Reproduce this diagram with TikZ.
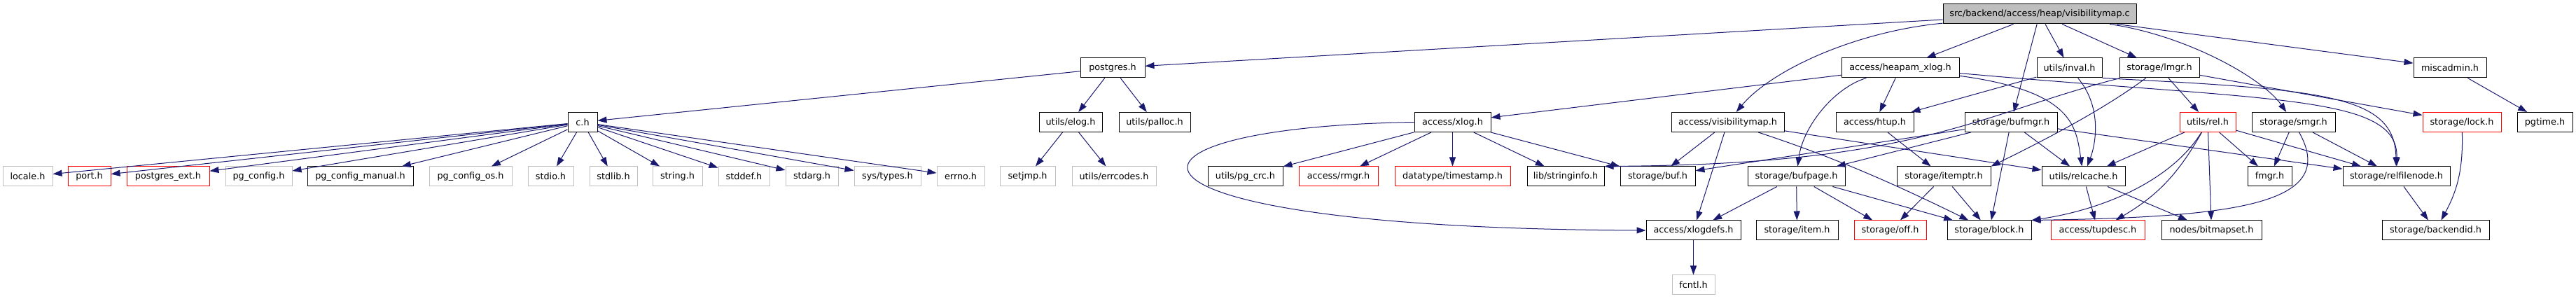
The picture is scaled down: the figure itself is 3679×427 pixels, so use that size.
\documentclass[tikz,border=0pt]{standalone}
\usepackage{fontspec}
\setmainfont{DejaVu Sans}
\usetikzlibrary{arrows.meta}
\definecolor{edgeblue}{HTML}{191970}
\definecolor{boxgray}{HTML}{BFBFBF}
\tikzset{
  hdr/.style={draw=black, fill=white, line width=1pt, inner sep=0pt,
    minimum height=28pt, minimum width=#1},
  sys/.style={hdr=#1, draw=boxgray},
  cut/.style={hdr=#1, draw=red},
  src/.style={hdr=#1, fill=boxgray},
  edge/.style={draw=edgeblue, line width=1pt, -{Triangle[length=13pt,width=9pt]}}
}
\begin{document}
\begin{tikzpicture}[x=1pt,y=-1pt,font=\fontsize{12.8}{15}\selectfont]
\path[use as bounding box, fill=white] (0,0) rectangle (3679,427);
\node[src=276] (top) at (2913,20) {src/backend/access/heap/visibilitymap.c};
% row 1
\node[hdr=92] (postgres) at (1589,97) {postgres.h};
\node[hdr=168] (heapamxlog) at (2714,97) {access/heapam\_xlog.h};
\node[hdr=93] (inval) at (2955.5,97) {utils/inval.h};
\node[hdr=114] (lmgr) at (3084,97) {storage/lmgr.h};
\node[hdr=104] (miscadmin) at (3499,97) {miscadmin.h};
% row 2
\node[hdr=42] (ch) at (832,174.5) {c.h};
\node[hdr=90] (elog) at (1529,174.5) {utils/elog.h};
\node[hdr=102] (palloc) at (1649,174.5) {utils/palloc.h};
\node[hdr=109] (xlog) at (2074.5,174.5) {access/xlog.h};
\node[hdr=161] (vismap) at (2467.5,174.5) {access/visibilitymap.h};
\node[hdr=111] (htup) at (2677.5,174.5) {access/htup.h};
\node[hdr=132] (bufmgr) at (2872,174.5) {storage/bufmgr.h};
\node[cut=80] (rel) at (3153,174.5) {utils/rel.h};
\node[hdr=119] (smgr) at (3275.5,174.5) {storage/smgr.h};
\node[cut=112] (lock) at (3516,174.5) {storage/lock.h};
\node[hdr=79] (pgtime) at (3634.5,174.5) {pgtime.h};
% row 3
\node[sys=71] (locale) at (39.5,252) {locale.h};
\node[cut=61] (port) at (127.5,252) {port.h};
\node[cut=118] (pgext) at (240,252) {postgres\_ext.h};
\node[sys=95] (pgconfig) at (369.5,252) {pg\_config.h};
\node[hdr=151] (pgcfgmanual) at (514.5,252) {pg\_config\_manual.h};
\node[sys=118] (pgcfgos) at (672,252) {pg\_config\_os.h};
\node[sys=65] (stdio) at (786.5,252) {stdio.h};
\node[sys=68] (stdlib) at (876,252) {stdlib.h};
\node[sys=71] (string) at (967.5,252) {string.h};
\node[sys=73] (stddef) at (1062.5,252) {stddef.h};
\node[sys=75] (stdarg) at (1159.5,252) {stdarg.h};
\node[sys=95] (systypes) at (1267.5,252) {sys/types.h};
\node[sys=68] (errno) at (1372,252) {errno.h};
\node[sys=79] (setjmp) at (1467.5,252) {setjmp.h};
\node[sys=120] (errcodes) at (1591,252) {utils/errcodes.h};
\node[hdr=107] (pgcrc) at (1778.5,252) {utils/pg\_crc.h};
\node[cut=113] (rmgr) at (1911.5,252) {access/rmgr.h};
\node[cut=165] (timestamp) at (2074.5,252) {datatype/timestamp.h};
\node[hdr=110] (stringinfo) at (2236,252) {lib/stringinfo.h};
\node[hdr=107] (buf) at (2367.5,252) {storage/buf.h};
\node[hdr=139] (bufpage) at (2565.5,252) {storage/bufpage.h};
\node[hdr=134] (itemptr) at (2776,252) {storage/itemptr.h};
\node[hdr=119] (relcache) at (2975.5,252) {utils/relcache.h};
\node[hdr=63] (fmgr) at (3241.5,252) {fmgr.h};
\node[hdr=153] (relfilenode) at (3422.5,252) {storage/relfilenode.h};
% row 4
\node[hdr=135] (xlogdefs) at (2418.5,329) {access/xlogdefs.h};
\node[hdr=117] (item) at (2566.5,329) {storage/item.h};
\node[cut=103] (off) at (2699.5,329) {storage/off.h};
\node[hdr=120] (block) at (2841,329) {storage/block.h};
\node[cut=134] (tupdesc) at (2996,329) {access/tupdesc.h};
\node[hdr=143] (bitmapset) at (3158.5,329) {nodes/bitmapset.h};
\node[hdr=153] (backendid) at (3478.5,329) {storage/backendid.h};
% row 5
\node[sys=61] (fcntl) at (2418.5,407) {fcntl.h};

% visibilitymap.c
\foreach \t in {postgres,heapamxlog,bufmgr,inval,lmgr,miscadmin}
  \draw[edge] (top) -- (\t);
\draw[edge] (top) .. controls (2650,45) and (2530,100) .. (vismap);
\draw[edge] (top) .. controls (3120,50) and (3230,110) .. (smgr);

% postgres.h, c.h, utils/elog.h
\foreach \t in {ch,elog,palloc}
  \draw[edge] (postgres) -- (\t);
\foreach \t in {locale,port,pgext,pgconfig,pgcfgmanual,pgcfgos,stdio,stdlib,string,stddef,stdarg,systypes,errno}
  \draw[edge] (ch) -- (\t);
\foreach \t in {setjmp,errcodes}
  \draw[edge] (elog) -- (\t);

% access/heapam_xlog.h
\foreach \t in {xlog,htup}
  \draw[edge] (heapamxlog) -- (\t);
\draw[edge] (heapamxlog) .. controls (2620,125) and (2575,180) .. (bufpage);
\draw[edge] (heapamxlog) .. controls (2960,130) and (2965,180) .. (relcache);
\draw[edge] (heapamxlog) .. controls (3250,145) and (3425,135) .. (relfilenode);

% access/xlog.h
\foreach \t in {pgcrc,rmgr,timestamp,stringinfo,buf}
  \draw[edge] (xlog) -- (\t);
\draw[edge] (xlog.west) .. controls (1545,182) and (1545,326) .. (xlogdefs.west);

% access/visibilitymap.h
\foreach \t in {buf,xlogdefs,relcache}
  \draw[edge] (vismap) -- (\t);
\draw[edge] (vismap) .. controls (2620,225) and (2700,260) .. (block);

% access/htup.h, utils/inval.h
\draw[edge] (htup) -- (itemptr);
\draw[edge] (inval) -- (htup);
\draw[edge] (inval) .. controls (3000,150) and (2995,200) .. (relcache);
\draw[edge] (inval.south east) .. controls (3320,128) and (3420,135) .. (relfilenode);

% storage/lmgr.h
\foreach \t in {rel,lock}
  \draw[edge] (lmgr) -- (\t);
\draw[edge] (lmgr) .. controls (3000,160) and (2900,210) .. (itemptr.north east);
\draw[edge] (lmgr) .. controls (2820,165) and (2740,235) .. (stringinfo.north east);

% storage/bufmgr.h
\foreach \t in {buf,bufpage,block,relcache,relfilenode}
  \draw[edge] (bufmgr) -- (\t);

% storage/bufpage.h, storage/itemptr.h
\foreach \t in {xlogdefs,item,off,block}
  \draw[edge] (bufpage) -- (\t);
\foreach \t in {off,block}
  \draw[edge] (itemptr) -- (\t);
\draw[edge] (xlogdefs) -- (fcntl);

% utils/relcache.h, utils/rel.h
\foreach \t in {tupdesc,bitmapset}
  \draw[edge] (relcache) -- (\t);
\foreach \t in {relcache,bitmapset,fmgr,relfilenode}
  \draw[edge] (rel) -- (\t);
\draw[edge] (rel) .. controls (3100,260) and (3000,300) .. (block.north east);
\draw[edge] (rel) to[bend left=15] (tupdesc);

% storage/smgr.h
\foreach \t in {fmgr,relfilenode}
  \draw[edge] (smgr) -- (\t);
\draw[edge] (smgr) .. controls (3340,290) and (3200,310) .. (block.north east);

% backendid, pgtime
\draw[edge] (relfilenode) -- (backendid);
\draw[edge] (lock) to[bend left=15] (backendid);
\draw[edge] (miscadmin) -- (pgtime);
\end{tikzpicture}
\end{document}
